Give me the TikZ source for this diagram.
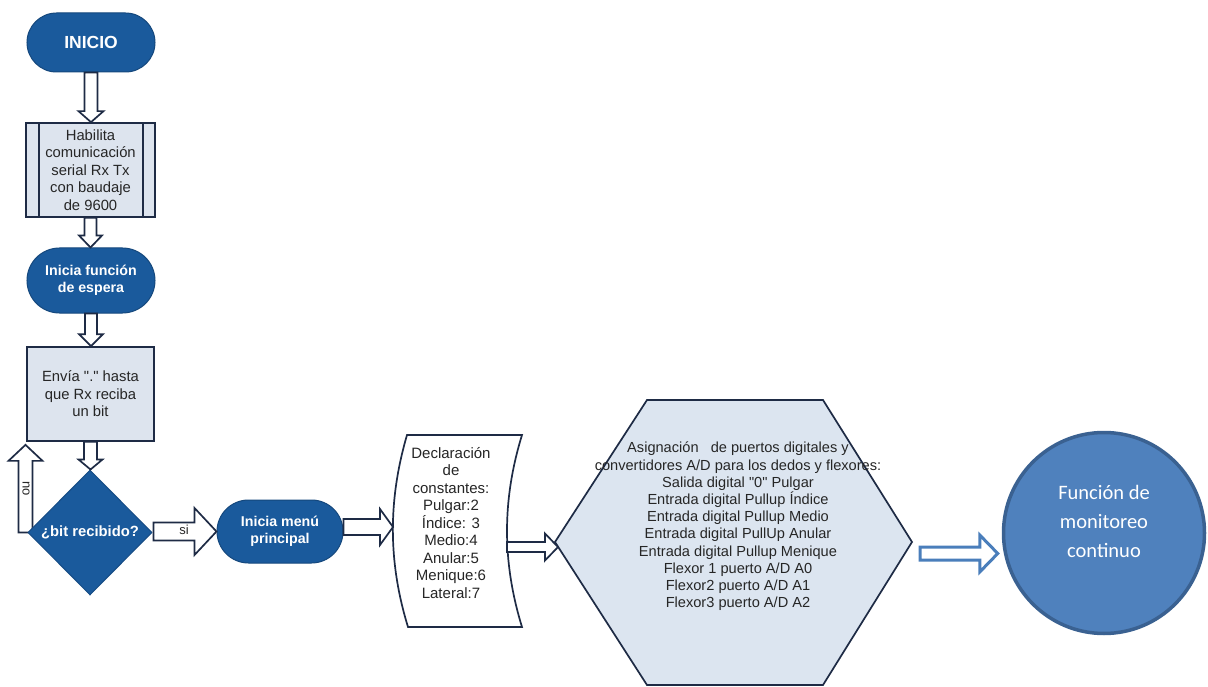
\documentclass[tikz,border=0pt]{standalone}
\usepackage{fontspec}
\setmainfont{Liberation Sans}
\newfontfamily\qf{Liberation Sans}
\newfontfamily\calib{Carlito}
\usetikzlibrary{shapes.geometric,shapes.misc,calc}
\pgfdeclarelayer{background}
\pgfsetlayers{background,main}
\definecolor{navy}{HTML}{1E2B45}
\definecolor{dblue}{HTML}{1A5A9C}
\definecolor{lbox}{HTML}{DDE4EE}
\definecolor{hexfill}{HTML}{DCE5F0}
\definecolor{cfill}{HTML}{4F81BD}
\definecolor{cline}{HTML}{3A6191}
\definecolor{aline}{HTML}{4A7EBB}
\definecolor{txt}{HTML}{262626}
\newcommand\dq{{\qf"}}
% hollow arrows: [style]{start}{target}{shaft half}{head half}{head length}
\newcommand\HArrowDown[6][harrow]{%
  \draw[#1] let \p1=#2, \p2=#3 in
   (\x1-#4pt,\y1) -- (\x1-#4pt,\y2+#6pt) -- (\x1-#5pt,\y2+#6pt) -- (\x1,\y2)
   -- (\x1+#5pt,\y2+#6pt) -- (\x1+#4pt,\y2+#6pt) -- (\x1+#4pt,\y1) -- cycle;}
\newcommand\HArrowUp[6][harrow]{%
  \draw[#1] let \p1=#2, \p2=#3 in
   (\x1-#4pt,\y1) -- (\x1-#4pt,\y2-#6pt) -- (\x1-#5pt,\y2-#6pt) -- (\x1,\y2)
   -- (\x1+#5pt,\y2-#6pt) -- (\x1+#4pt,\y2-#6pt) -- (\x1+#4pt,\y1) -- cycle;}
\newcommand\HArrowRight[6][harrow]{%
  \draw[#1] let \p1=#2, \p2=#3 in
   (\x1,\y1+#4pt) -- (\x2-#6pt,\y1+#4pt) -- (\x2-#6pt,\y1+#5pt) -- (\x2,\y1)
   -- (\x2-#6pt,\y1-#5pt) -- (\x2-#6pt,\y1-#4pt) -- (\x1,\y1-#4pt) -- cycle;}
\tikzset{
  harrow/.style={draw=navy, line width=1.7pt, fill=white, line join=miter},
  barrow/.style={draw=aline, line width=3pt, fill=white, line join=miter},
  stad/.style={rounded rectangle, fill=dblue, draw=dblue!80!black, line width=1pt,
    text=white, align=center, inner sep=0pt,
    font=\bfseries\fontsize{14.2}{17.5}\selectfont},
  lrect/.style={rectangle, fill=lbox, draw=navy, line width=1.7pt, text=txt,
    align=center, inner sep=0pt, font=\fontsize{14.8}{17.5}\selectfont},
  plaintxt/.style={text=txt, align=center, inner sep=0pt},
  shapeline/.style={draw=navy, line width=1.7pt, line join=miter}
}
\begin{document}
\begin{tikzpicture}[x=1pt,y=-1pt]
\useasboundingbox (0,0) rectangle (1208,687);
\begin{pgfonlayer}{background}
\fill[white] (0,0) rectangle (1208,687);
\end{pgfonlayer}

% ---- left column ----
\node[stad, minimum width=128pt, minimum height=59pt,
      font=\bfseries\fontsize{17.5}{18}\selectfont] (ini) at (91,42.5) {INICIO};
\node[lrect, minimum width=129pt, minimum height=94pt] (hab) at (90.5,170)
  {Habilita\\comunicación\\serial Rx Tx\\con baudaje\\de 9600};
\draw[navy, line width=1.5pt] ($(hab.north west)+(14,0)$) -- ($(hab.south west)+(14,0)$);
\draw[navy, line width=1.5pt] ($(hab.north east)+(-13,0)$) -- ($(hab.south east)+(-13,0)$);
\node[stad, minimum width=128pt, minimum height=65pt] (func) at (91,280.5)
  {Inicia función\\de espera};
\node[lrect, minimum width=127pt, minimum height=94pt] (env) at (90.5,394)
  {Envía \dq.\dq\ hasta\\que Rx reciba\\un bit};
\node[diamond, fill=dblue, draw=dblue!85!black, line width=1pt, minimum width=124pt,
      minimum height=125pt, inner sep=0pt, text=white,
      font=\bfseries\fontsize{14.8}{17}\selectfont] (dia) at (90,532.5) {¿bit recibido?};
\node[stad, minimum width=126pt, minimum height=63pt] (menu) at (280,531.5)
  {Inicia menú\\principal};

\HArrowDown{(ini.south)}{(hab.north)}{6.5}{12.5}{11}
\HArrowDown{(hab.south)}{(func.north)}{6}{11.5}{12}
\HArrowDown{(func.south)}{(env.north)}{6}{12}{12}
\HArrowDown{(env.south)}{(dia.north)}{6.5}{12}{10}
\begin{pgfonlayer}{background}
\HArrowUp{($(dia.west)+(-2,0)$)}{($(env.south west)+(-1,3)$)}{7}{17}{16}
\end{pgfonlayer}
\node[plaintxt, rotate=-90, font=\fontsize{13}{13}\selectfont] (nolbl) at (26,489) {no};
\HArrowRight{($(dia.east)+(1,-1)$)}{(menu.west)}{9}{23.5}{22}
\node[plaintxt, font=\fontsize{13}{13}\selectfont] (silbl) at (184,530) {si};

% ---- declaration (document shape) ----
\coordinate (declW) at (393,527);
\coordinate (declE) at (507,547);
\draw[shapeline, fill=white] (407,435) -- (522,435)
   .. controls (502,500) and (502,562) .. (522,627)
   -- (408,627) .. controls (388,562) and (388,500) .. (407,435) -- cycle;
\node[plaintxt, font=\fontsize{15}{17.5}\selectfont] (decl) at (451,523)
  {Declaración\\de\\constantes:\\Pulgar:2\\Índice: 3\\Medio:4\\Anular:5\\Menique:6\\Lateral:7};
\HArrowRight{($(menu.east)+(0,-4.5)$)}{(declW)}{8}{18}{13}

% ---- hexagon ----
\coordinate (hexW) at (555,542);
\coordinate (hexE) at (912,542);
\draw[shapeline, fill=hexfill] (hexW) -- (647,400) -- (823,400) -- (hexE)
   -- (823,685) -- (647,685) -- cycle;
\node[plaintxt, font=\fontsize{14.6}{17.2}\selectfont] (hex) at (738,526.5)
  {Asignación\ \ \ de puertos digitales y\\convertidores A/D para los dedos y flexores:\\
   Salida digital \dq0\dq\ Pulgar\\Entrada digital Pullup Índice\\Entrada digital Pullup Medio\\
   Entrada digital PullUp Anular\\Entrada digital Pullup Menique\\Flexor 1 puerto A/D A0\\
   Flexor2 puerto A/D A1\\Flexor3 puerto A/D A2};
\HArrowRight{(declE)}{($(hexW)+(3,5)$)}{5}{13.5}{13}

% ---- circle ----
\node[circle, fill=cfill, draw=cline, line width=3.5pt, minimum size=201pt,
      inner sep=0pt] (circ) at (1104,533) {};
\node[text=white, align=center, inner sep=0pt,
      font=\calib\fontsize{20.5}{29}\selectfont] (circtxt) at (1104,521)
  {Función de\\monitoreo\\continuo};
\HArrowRight[barrow]{($(hexE)+(8,11.5)$)}{($(circ.west)+(-4,0)$)}{6.5}{18.5}{18}
\end{tikzpicture}
\end{document}
